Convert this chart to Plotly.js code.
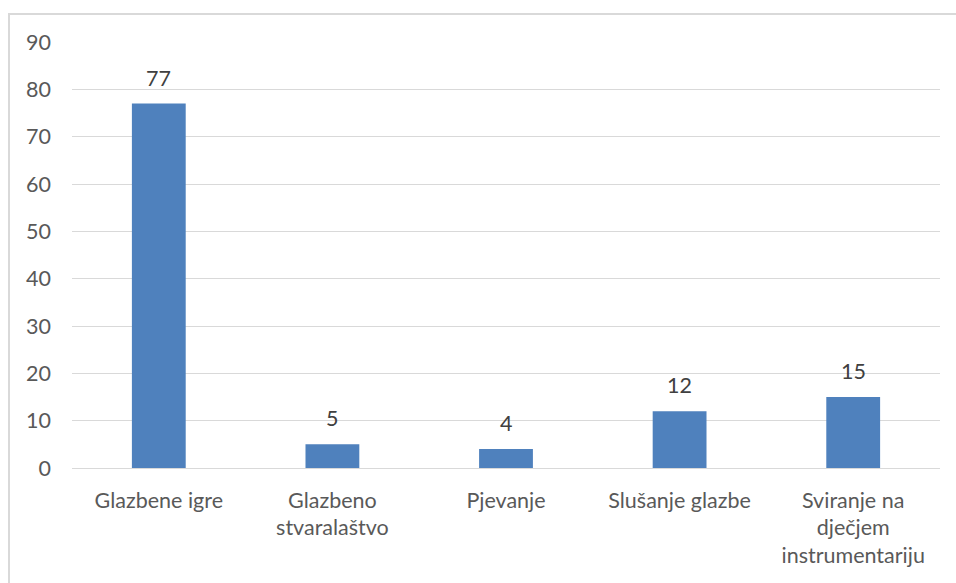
<!DOCTYPE html>
<html>
<head>
<meta charset="utf-8">
<script src="https://cdn.plot.ly/plotly-3.0.1.min.js"></script>
<style>
html,body{margin:0;padding:0;background:#fff;}
#frame{position:absolute;left:8px;top:13px;width:1000px;height:700px;border:2px solid #d9d9d9;box-sizing:border-box;}
#chart{position:absolute;left:0;top:0;width:956px;height:583px;}
</style>
</head>
<body>
<div id="frame"></div>
<div id="chart"></div>
<script>
const categories = ["Glazbene igre", "Glazbeno<br>stvaralaštvo", "Pjevanje", "Slušanje glazbe", "Sviranje na<br>dječjem<br>instrumentariju"];
const values = [77, 5, 4, 12, 15];
const yTicks = [0, 10, 20, 30, 40, 50, 60, 70, 80, 90];

const FONT = "Lato, 'Open Sans', sans-serif";
const FS = 21.5;

Plotly.newPlot('chart', [{
  type: 'bar',
  x: categories,
  y: values,
  marker: {color: '#4f81bd'},
  hoverinfo: 'none'
}], {
  width: 956, height: 583,
  margin: {l: 72, r: 16, t: 42, b: 115},
  paper_bgcolor: 'rgba(0,0,0,0)',
  plot_bgcolor: 'rgba(0,0,0,0)',
  bargap: 0.69,
  showlegend: false,
  font: {family: FONT, size: FS, color: '#595959'},
  annotations: categories.map((c, i) => ({
    x: c, y: values[i], xref: 'x', yref: 'y',
    text: String(values[i]), showarrow: false,
    yanchor: 'bottom', yshift: 11,
    font: {family: FONT, size: FS, color: '#404040'}
  })),
  xaxis: {
    showgrid: false, showline: false, zeroline: false,
    ticks: '', ticklabelstandoff: 17,
    tickfont: {family: FONT, size: FS, color: '#595959'}
  },
  yaxis: {
    range: [0, 90], tickvals: yTicks, ticktext: yTicks.map(String),
    showgrid: true, gridcolor: '#d9d9d9', gridwidth: 1,
    zeroline: true, zerolinecolor: '#d9d9d9', zerolinewidth: 1,
    showline: false, ticks: '', ticklabelstandoff: 20,
    tickfont: {family: FONT, size: FS, color: '#595959'}
  }
}, {staticPlot: true});
</script>
</body>
</html>
